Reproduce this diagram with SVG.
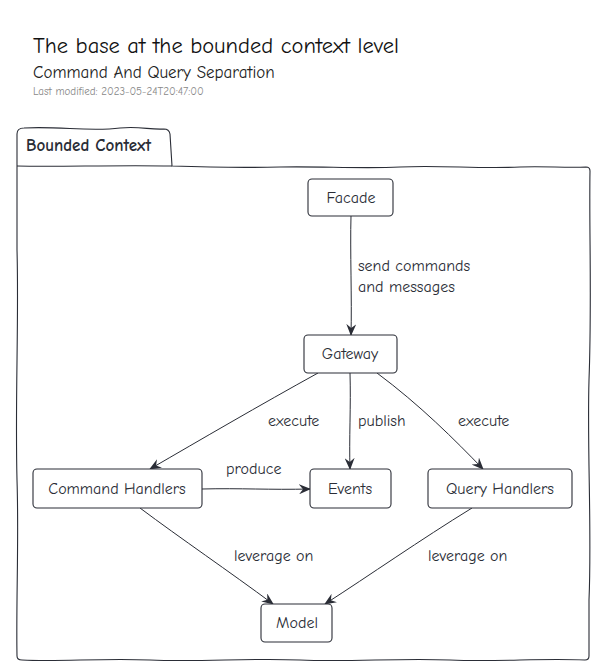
<svg xmlns="http://www.w3.org/2000/svg" width="600" height="670" viewBox="0 0 600 670">
<style>
text{font-family:"Comic Neue","Open Sans","Liberation Sans",sans-serif;fill:#2a2d36}
.title{font-size:22.5px;fill:#111}
.sub{font-size:17px;fill:#222}
.mod{font-size:11px;fill:#888}
.pkg{font-size:17px;font-weight:bold}
.lbl{font-size:16px}
.node{fill:#fff;stroke:#2a2d36;stroke-width:1.1}
.frame{fill:none;stroke:#2a2d36;stroke-width:1.1}
.edge{fill:none;stroke:#2a2d36;stroke-width:1}
.ntext{font-size:16px;text-anchor:middle}
</style>
<defs>
<marker id="arr" viewBox="0 0 12 10" refX="11" refY="5" markerWidth="12" markerHeight="10" markerUnits="userSpaceOnUse" orient="auto">
<path d="M0,0 L12,5 L0,10 L4,5 Z" fill="#2a2d36"/>
</marker>
</defs>
<rect width="600" height="670" fill="#fff"/>
<text class="title" x="33" y="53">The base at the bounded context level</text>
<text class="sub" x="33" y="78">Command And Query Separation</text>
<text class="mod" x="33" y="95">Last modified: 2023-05-24T20:47:00</text>

<g id="bounded-context">
<path class="frame" d="M17,134 Q17,128 24,128 C60,126 90,132 120,128 C140,126 150,130 164,129 Q169,129 170,134 L172,166 C200,167 240,168 280,167 C320,166 360,169 400,167 C440,165 480,169 520,167 C545,166 565,168 586,167 Q590,167 590,171 C589,230 592,300 589,380 C587,450 592,530 589,600 L589,656 Q589,660 585,660 C540,658 500,662 450,660 C400,658 350,662 300,660 C250,658 200,662 150,660 C100,658 60,662 22,660 Q17,660 17,656 C16,600 19,540 17,480 C15,400 19,320 17,250 L17,134 Z"/>
<path class="frame" d="M17,166 C60,167 110,165 172,166"/>
<text class="pkg" x="26" y="151">Bounded Context</text>
</g>

<g id="connectors">
<path class="edge" marker-end="url(#arr)" d="M351,216 C350,250 352,300 351,335"/>
<text class="lbl" x="358" y="271">send commands</text>
<text class="lbl" x="358" y="292">and messages</text>
<path class="edge" marker-end="url(#arr)" d="M318,373 C260,405 200,440 150,469"/>
<text class="lbl" x="268" y="426">execute</text>
<path class="edge" marker-end="url(#arr)" d="M350,373 C351,405 349,440 350,469"/>
<text class="lbl" x="358" y="426">publish</text>
<path class="edge" marker-end="url(#arr)" d="M377,373 C420,405 455,440 483,469"/>
<text class="lbl" x="458" y="426">execute</text>
<path class="edge" marker-end="url(#arr)" d="M202,489 C240,488 270,490 310,489"/>
<text class="lbl" x="226" y="474">produce</text>
<path class="edge" marker-end="url(#arr)" d="M140,508 C180,538 230,572 273,604"/>
<text class="lbl" x="234" y="561">leverage on</text>
<path class="edge" marker-end="url(#arr)" d="M472,508 C420,540 370,575 325,604"/>
<text class="lbl" x="428" y="561">leverage on</text>
</g>

<g id="facade">
<rect class="node" x="308" y="179" width="85" height="37" rx="4"/>
<text class="ntext" x="351" y="203">Facade</text>
</g>
<g id="gateway">
<rect class="node" x="304" y="335" width="93" height="38" rx="4"/>
<text class="ntext" x="350" y="359">Gateway</text>
</g>
<g id="command-handlers">
<rect class="node" x="33" y="469" width="169" height="39" rx="4"/>
<text class="ntext" x="117" y="494">Command Handlers</text>
</g>
<g id="events">
<rect class="node" x="310" y="469" width="81" height="39" rx="4"/>
<text class="ntext" x="350" y="494">Events</text>
</g>
<g id="query-handlers">
<rect class="node" x="428" y="469" width="144" height="39" rx="4"/>
<text class="ntext" x="500" y="494">Query Handlers</text>
</g>
<g id="model">
<rect class="node" x="261" y="604" width="71" height="38" rx="4"/>
<text class="ntext" x="297" y="628">Model</text>
</g>
</svg>
